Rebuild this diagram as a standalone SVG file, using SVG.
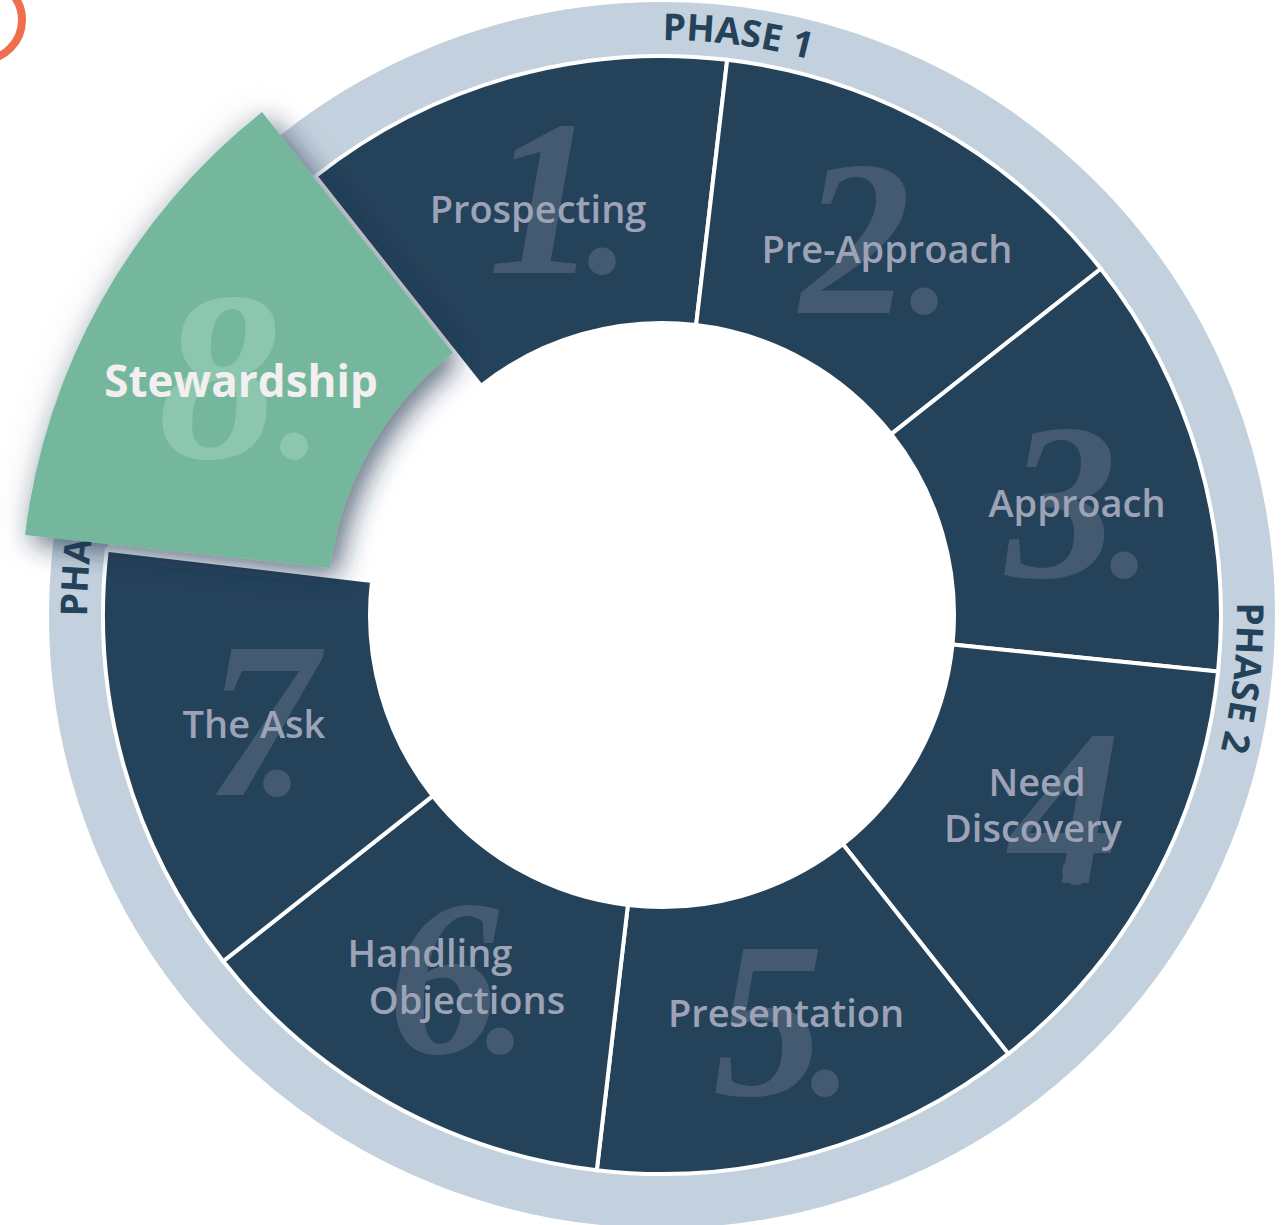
<svg xmlns="http://www.w3.org/2000/svg" xmlns:xlink="http://www.w3.org/1999/xlink" width="1281" height="1225" viewBox="0 0 1281 1225">
  <defs>
    <style>
      .seg { fill: #24425a; stroke: #ffffff; stroke-width: 4; }
      .num { font-family: "Liberation Serif", "Times New Roman", serif; font-style: italic; font-weight: 700; font-size: 222px; fill: #435a71; }
      .dot { font-size: 170px; }
      .lbl { font-family: "Open Sans", "Liberation Sans", sans-serif; font-weight: 600; font-size: 38px; fill: #9da3b6; text-anchor: middle; }
      .phase { font-family: "Open Sans", "Liberation Sans", sans-serif; font-weight: 700; font-size: 37px; fill: #24425a; }
    </style>
    <!-- clockwise circle through the middle of the phase band, starting at 12 o'clock -->
    <path id="phaseTrack" d="M 662 40 A 575 575 0 1 1 662 1190 A 575 575 0 1 1 662 40"/>
    <filter id="lift" x="-30%" y="-30%" width="170%" height="170%">
      <feGaussianBlur in="SourceAlpha" stdDeviation="13" result="blurA"/>
      <feOffset in="blurA" dx="8" dy="9" result="offA"/>
      <feFlood flood-color="#1e3350" flood-opacity="0.62"/>
      <feComposite in2="offA" operator="in" result="shadow"/>
      <feGaussianBlur in="SourceAlpha" stdDeviation="18" result="blurB"/>
      <feFlood flood-color="#1e3350" flood-opacity="0.14"/>
      <feComposite in2="blurB" operator="in" result="halo"/>
      <feMerge>
        <feMergeNode in="halo"/>
        <feMergeNode in="shadow"/>
        <feMergeNode in="SourceGraphic"/>
      </feMerge>
    </filter>
  </defs>

  <rect width="1281" height="1225" fill="#ffffff"/>

  <!-- partial orange ring in the corner -->
  <circle cx="-18" cy="20" r="40" fill="none" stroke="#ef6e4e" stroke-width="8"/>

  <!-- phase band -->
  <g id="phase-band">
    <circle cx="662" cy="615" r="586" fill="none" stroke="#c3d0dd" stroke-width="54"/>
    <text class="phase"><textPath xlink:href="#phaseTrack" startOffset="75" text-anchor="middle">PHASE 1</textPath></text>
    <text class="phase"><textPath xlink:href="#phaseTrack" startOffset="965" text-anchor="middle">PHASE 2</textPath></text>
    <text class="phase"><textPath xlink:href="#phaseTrack" startOffset="2708">PHA</textPath></text>
  </g>

  <g id="connectors"/>

  <g id="step-1">
    <path class="seg" d="M 481.0 385.8 L 315.5 176.3 A 559 559 0 0 1 727.2 59.8 L 696.1 325.0 A 292 292 0 0 0 481.0 385.8 Z"/>
    <text class="num" x="488" y="273">1<tspan class="dot" dx="-12">.</tspan></text>
    <text class="lbl" x="538" y="223">Prospecting</text>
  </g>
  <g id="step-2">
    <path class="seg" d="M 696.1 325.0 L 727.2 59.8 A 559 559 0 0 1 1100.8 268.7 L 891.2 434.1 A 292 292 0 0 0 696.1 325.0 Z"/>
    <text class="num" x="800" y="313">2<tspan class="dot" dx="-2">.</tspan></text>
    <text class="lbl" x="887" y="263">Pre-Approach</text>
  </g>
  <g id="step-3">
    <path class="seg" d="M 891.2 434.1 L 1100.8 268.7 A 559 559 0 0 1 1218.1 671.5 L 952.5 644.5 A 292 292 0 0 0 891.2 434.1 Z"/>
    <text class="num" x="1006" y="577">3<tspan class="dot" dx="-8">.</tspan></text>
    <text class="lbl" x="1077" y="517">Approach</text>
  </g>
  <g id="step-4">
    <path class="seg" d="M 952.5 644.5 L 1218.1 671.5 A 559 559 0 0 1 1008.3 1053.8 L 842.9 844.2 A 292 292 0 0 0 952.5 644.5 Z"/>
    <text class="num" x="1010" y="883">4<tspan class="dot" dx="-60">.</tspan></text>
    <text class="lbl" x="1037" y="796">Need</text>
    <text class="lbl" x="1033" y="842">Discovery</text>
  </g>
  <g id="step-5">
    <path class="seg" d="M 842.9 844.2 L 1008.3 1053.8 A 559 559 0 0 1 596.8 1170.2 L 627.9 905.0 A 292 292 0 0 0 842.9 844.2 Z"/>
    <text class="num" x="713" y="1095">5<tspan class="dot" dx="-14">.</tspan></text>
    <text class="lbl" x="786" y="1027">Presentation</text>
  </g>
  <g id="step-6">
    <path class="seg" d="M 627.9 905.0 L 596.8 1170.2 A 559 559 0 0 1 223.2 961.3 L 432.8 795.9 A 292 292 0 0 0 627.9 905.0 Z"/>
    <text class="num" x="388" y="1053">6<tspan class="dot" dx="-14">.</tspan></text>
    <text class="lbl" x="430" y="967">Handling</text>
    <text class="lbl" x="467" y="1014">Objections</text>
  </g>
  <g id="step-7">
    <path class="seg" d="M 432.8 795.9 L 223.2 961.3 A 559 559 0 0 1 106.8 549.8 L 372.0 580.9 A 292 292 0 0 0 432.8 795.9 Z"/>
    <text class="num" x="206" y="795">7<tspan class="dot" dx="-55">.</tspan></text>
    <text class="lbl" x="254" y="738">The Ask</text>
  </g>

  <!-- highlighted step, pulled out of the wheel -->
  <g id="step-8">
    <path d="M 262 112 L 453 353 A 331 331 0 0 0 330 568 L 25 535 A 638 638 0 0 1 262 112 Z" fill="#74b79d" filter="url(#lift)"/>
    <text class="num" x="158" y="458" style="fill:#8cc6ae; font-size:242px">8<tspan class="dot" dx="0">.</tspan></text>
    <text x="241" y="397" text-anchor="middle" font-family="'Open Sans', 'Liberation Sans', sans-serif" font-weight="700" font-size="44" fill="#f3eff1">Stewardship</text>
  </g>
</svg>
